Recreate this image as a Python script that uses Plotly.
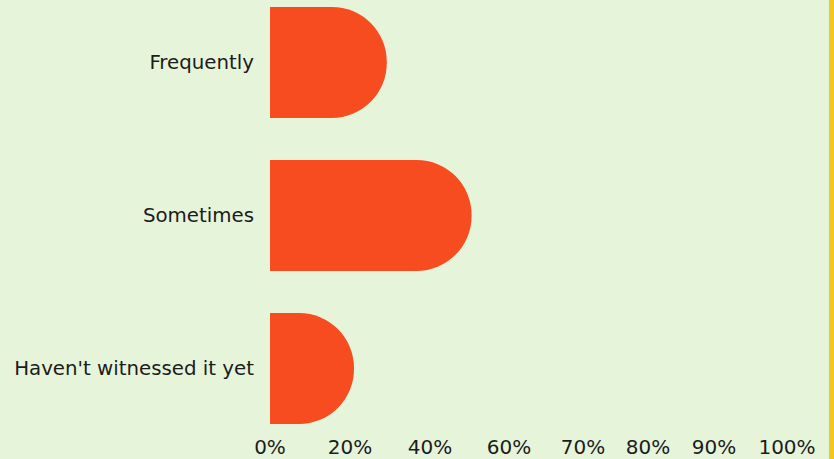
import plotly.graph_objects as go

categories = ["Haven't witnessed it yet", "Sometimes", "Frequently"]
values = [21, 50.4, 29.2]
tick_labels = ["0%", "20%", "40%", "60%", "70%", "80%", "90%", "100%"]
tick_positions = [0, 20, 40, 59.75, 78.25, 94.5, 111, 129.25]

BG = "#e6f5da"
BAR = "#f74c1f"
TXT = "#1c1c1c"
YELLOW = "#f3c71d"
FONT = "DejaVu Sans, sans-serif"

fig = go.Figure(
    go.Bar(
        y=categories,
        x=values,
        orientation="h",
        width=0.7255,
        marker=dict(color=BAR, cornerradius="50%", line=dict(width=0)),
        hoverinfo="skip",
    )
)

fig.update_layout(
    width=834,
    height=459,
    margin=dict(l=270, r=5, t=0, b=29),
    paper_bgcolor=BG,
    plot_bgcolor=BG,
    showlegend=False,
    font=dict(family=FONT, size=20, color=TXT),
    xaxis=dict(
        range=[0, 139.75],
        tickvals=tick_positions,
        ticktext=tick_labels,
        showgrid=False,
        zeroline=False,
        showline=False,
        ticks="",
        ticklabelstandoff=3,
        tickfont=dict(size=20),
        fixedrange=True,
    ),
    yaxis=dict(
        type="category",
        categoryorder="array",
        categoryarray=categories,
        range=[-0.402, 2.408],
        showgrid=False,
        zeroline=False,
        showline=False,
        ticks="",
        ticklabelstandoff=15,
        tickfont=dict(size=19.8),
        fixedrange=True,
    ),
    shapes=[
        dict(
            type="rect",
            xref="paper",
            yref="paper",
            x0=1,
            x1=1.02,
            y0=-0.2,
            y1=1.1,
            fillcolor=YELLOW,
            line=dict(width=0),
            layer="above",
        )
    ],
)

fig.write_html("out.html", config={"displayModeBar": False})
